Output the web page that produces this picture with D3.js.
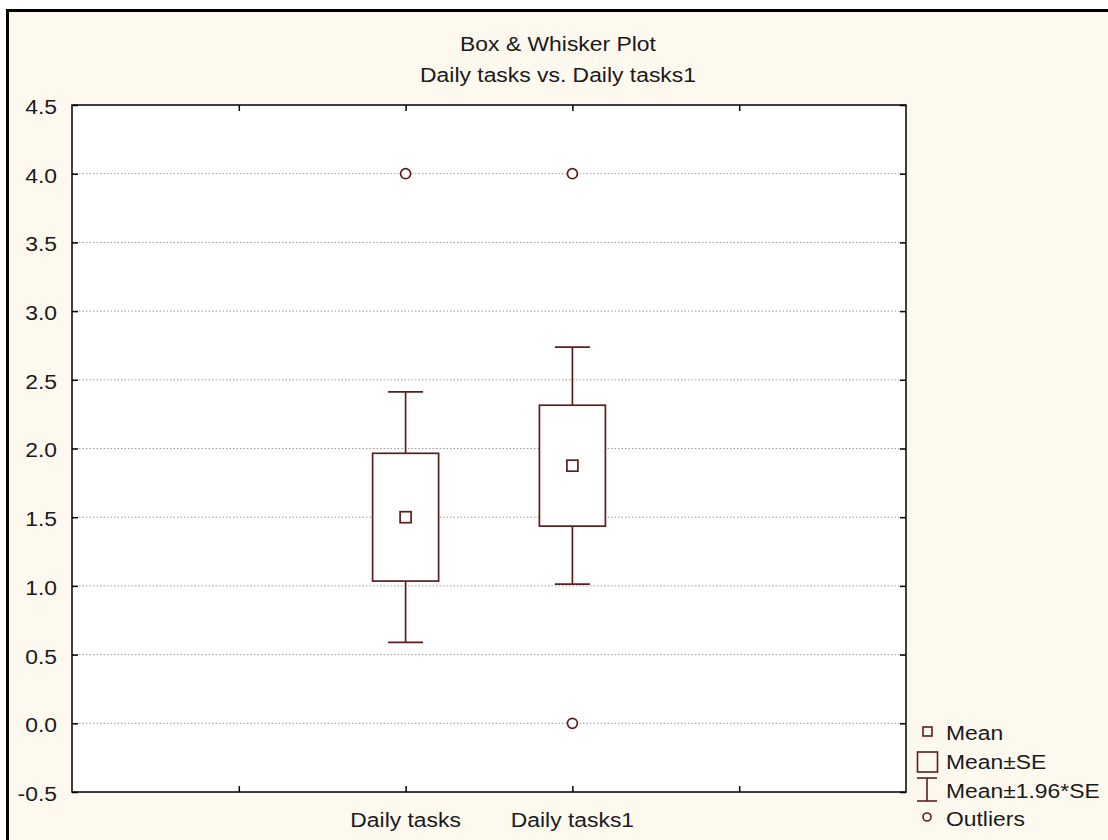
<!DOCTYPE html>
<html>
<head>
<meta charset="utf-8">
<script src="https://cdn.jsdelivr.net/npm/d3@7"></script>
<style>
  html, body { margin: 0; padding: 0; background: #ffffff; }
  svg { display: block; }
  text { font-family: "Liberation Sans", Arial, sans-serif; fill: #1a1a1a; }
</style>
</head>
<body>
<svg id="chart" width="1108" height="840"></svg>
<script>
// ---- data ----
const titleLines = ["Box & Whisker Plot", "Daily tasks vs. Daily tasks1"];
const categories = ["Daily tasks", "Daily tasks1"];
const means = [1.5, 1.875];
const standardErrors = [0.465, 0.44];
const outliers = [[4.0], [4.0, 0.0]];
const yTicks = [-0.5, 0.0, 0.5, 1.0, 1.5, 2.0, 2.5, 3.0, 3.5, 4.0, 4.5];
const gridValues = [0.0, 0.5, 1.0, 1.5, 2.0, 2.5, 3.0, 3.5, 4.0];
const legendLabels = ["Mean", "Mean\u00b1SE", "Mean\u00b11.96*SE", "Outliers"];

// ---- layout ----
const plot = { left: 72, right: 906, top: 105, bottom: 792 };
const markColor = "#5b1e1e";
const fontSize = 21;
const stretch = 1.09;   // horizontal text scale

const svg = d3.select("#chart");

// frame
svg.append("rect")
  .attr("x", 7.5).attr("y", 10.5)
  .attr("width", 1200).attr("height", 1000)
  .attr("fill", "#fdf9ef")
  .attr("stroke", "#000").attr("stroke-width", 3);

// scales: categories sit at positions 2 and 3 of a 0..5 axis
const y = d3.scaleLinear().domain([-0.5, 4.5]).range([plot.bottom, plot.top]);
const x = d3.scaleLinear().domain([0, 5]).range([plot.left, plot.right]);
const catPos = categories.map((c, i) => i + 2);
const xTicks = [1, 2, 3, 4];

function stretchedText(g, tx, ty, str, anchor) {
  return g.append("text")
    .attr("transform", `translate(${tx},${ty}) scale(${stretch},1)`)
    .attr("text-anchor", anchor)
    .style("font-size", fontSize + "px")
    .text(str);
}

// titles
const cx = 558;
stretchedText(svg, cx, 51, titleLines[0], "middle");
stretchedText(svg, cx, 82, titleLines[1], "middle");

// plot background
svg.append("rect")
  .attr("x", plot.left).attr("y", plot.top)
  .attr("width", plot.right - plot.left).attr("height", plot.bottom - plot.top)
  .attr("fill", "#fff");

// gridlines
svg.append("g").selectAll("line").data(gridValues).join("line")
  .attr("x1", plot.left).attr("x2", plot.right)
  .attr("y1", d => y(d)).attr("y2", d => y(d))
  .attr("stroke", "#9a9a9a").attr("stroke-width", 1)
  .attr("stroke-dasharray", "1.5,2");

// axes with inward ticks
function styleAxis(g) {
  g.select(".domain").remove();
  g.selectAll(".tick line").attr("stroke", "#000").attr("stroke-width", 1.5);
}
const yAxisL = svg.append("g").attr("transform", `translate(${plot.left},0)`)
  .call(d3.axisLeft(y).tickValues(yTicks).tickSize(-6).tickPadding(12)
    .tickFormat(d => d.toFixed(1)));
styleAxis(yAxisL);
yAxisL.selectAll(".tick text")
  .attr("font-family", null).attr("font-size", null)
  .style("font-size", fontSize + "px")
  .attr("dy", "0.40em")
  .attr("transform", `scale(${stretch},1)`);
// keep labels' right edge near x = 57
yAxisL.selectAll(".tick text").attr("x", -15 / stretch);

const yAxisR = svg.append("g").attr("transform", `translate(${plot.right},0)`)
  .call(d3.axisRight(y).tickValues(yTicks).tickSize(-6).tickFormat(""));
styleAxis(yAxisR);

const xAxisT = svg.append("g").attr("transform", `translate(0,${plot.top})`)
  .call(d3.axisTop(x).tickValues(xTicks).tickSize(-6).tickFormat(""));
styleAxis(xAxisT);

const xAxisB = svg.append("g").attr("transform", `translate(0,${plot.bottom})`)
  .call(d3.axisBottom(x).tickValues(xTicks).tickSize(-6).tickFormat(""));
styleAxis(xAxisB);

// category labels
categories.forEach((c, i) => {
  stretchedText(svg, x(catPos[i]), 827, c, "middle");
});

// plot border
svg.append("rect")
  .attr("x", plot.left).attr("y", plot.top)
  .attr("width", plot.right - plot.left).attr("height", plot.bottom - plot.top)
  .attr("fill", "none").attr("stroke", "#000").attr("stroke-width", 1.5);

// boxes
const boxW = 66, capW = 35, meanSize = 11;
const marks = svg.append("g")
  .attr("stroke", markColor).attr("stroke-width", 1.7).attr("fill", "#fff");

categories.forEach((c, i) => {
  const px = x(catPos[i]);
  const m = means[i], se = standardErrors[i];
  const seLo = m - se, seHi = m + se;
  const ciLo = m - 1.96 * se, ciHi = m + 1.96 * se;
  const g = marks.append("g");
  // whiskers
  g.append("line").attr("x1", px).attr("x2", px).attr("y1", y(ciHi)).attr("y2", y(seHi));
  g.append("line").attr("x1", px).attr("x2", px).attr("y1", y(seLo)).attr("y2", y(ciLo));
  g.append("line").attr("x1", px - capW / 2).attr("x2", px + capW / 2).attr("y1", y(ciHi)).attr("y2", y(ciHi));
  g.append("line").attr("x1", px - capW / 2).attr("x2", px + capW / 2).attr("y1", y(ciLo)).attr("y2", y(ciLo));
  // box
  g.append("rect")
    .attr("x", px - boxW / 2).attr("width", boxW)
    .attr("y", y(seHi)).attr("height", y(seLo) - y(seHi));
  // mean
  g.append("rect")
    .attr("x", px - meanSize / 2).attr("y", y(m) - meanSize / 2)
    .attr("width", meanSize).attr("height", meanSize);
  // outliers
  g.selectAll("circle").data(outliers[i]).join("circle")
    .attr("cx", px).attr("cy", d => y(d)).attr("r", 5);
});

// legend
const lg = svg.append("g");
const lgMarks = lg.append("g").attr("stroke", markColor).attr("stroke-width", 1.6).attr("fill", "none");
lgMarks.append("rect").attr("x", 923).attr("y", 727).attr("width", 9).attr("height", 9);
lgMarks.append("rect").attr("x", 917.5).attr("y", 752).attr("width", 20).attr("height", 20);
lgMarks.append("line").attr("x1", 917).attr("x2", 937).attr("y1", 778).attr("y2", 778);
lgMarks.append("line").attr("x1", 927).attr("x2", 927).attr("y1", 778).attr("y2", 801);
lgMarks.append("line").attr("x1", 917).attr("x2", 937).attr("y1", 801).attr("y2", 801);
lgMarks.append("circle").attr("cx", 927).attr("cy", 817).attr("r", 4);
const lgBaselines = [740, 769, 798, 826];
legendLabels.forEach((t, i) => stretchedText(lg, 946, lgBaselines[i], t, "start"));
</script>
</body>
</html>
